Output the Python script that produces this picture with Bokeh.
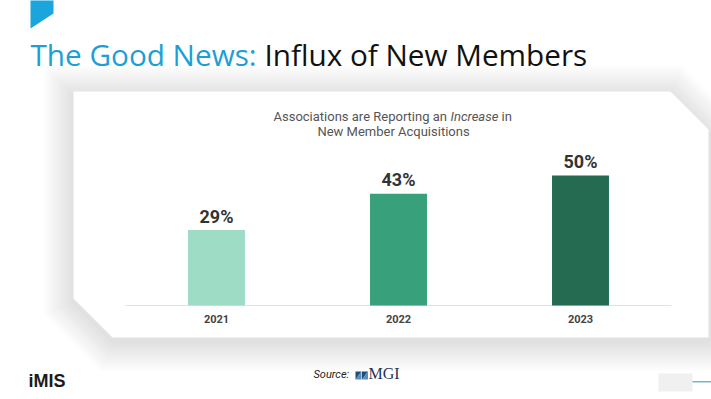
from bokeh.plotting import figure
from bokeh.models import ColumnDataSource, Label, PolyAnnotation, Range1d
from bokeh.core.properties import value
from bokeh.embed import file_html
from bokeh.resources import INLINE

# ---- data ----
years = ["2021", "2022", "2023"]
pct = [29, 43, 50]
bar_colors = ["#9fdcc5", "#38a07a", "#256b51"]
pct_labels = [f"{v}%" for v in pct]

title_lead = "The Good News:"
title_rest = "Influx of New Members"
sub_a = "Associations are Reporting an"
sub_b = "Increase"
sub_c = "in"
sub_2 = "New Member Acquisitions"

# ---- layout: the plot frame covers the whole canvas ----
W, H = 711, 399
X0, XSTEP = 216, 182      # page x of first category centre, px per category
Y0, YPX = 305, 2.6        # page y of the baseline, px per percentage point

p = figure(width=W, height=H, title=None,
           x_range=Range1d(-X0 / XSTEP, (W - X0) / XSTEP),
           y_range=Range1d(-(H - Y0) / YPX, Y0 / YPX),
           output_backend="svg", toolbar_location=None,
           min_border=0, x_axis_location=None, y_axis_location=None)
p.grid.visible = False
p.outline_line_color = None
p.background_fill_color = "white"
p.border_fill_color = "white"


def sx(px):
    return px


def sy(py):
    return H - py


def poly(pts, color, alpha=1.0, level="underlay"):
    a = PolyAnnotation(xs=[sx(x) for x, _ in pts], ys=[sy(y) for _, y in pts],
                       xs_units="screen", ys_units="screen",
                       fill_color=color, fill_alpha=alpha, line_color=None, level=level)
    p.add_layout(a)


# card shadow + card
def card_shape(d, dy):
    k = 0.414 * d
    return [(73 - d, 91 - d + dy), (670 + k, 91 - d + dy), (708 + d, 129 - k + dy),
            (708 + d, 337 + d + dy), (112 - k, 337 + d + dy), (73 - d, 298 + k + dy)]


for d in range(30, 0, -2):
    poly(card_shape(d, 4), "black", 0.0085)
poly(card_shape(0, 0), "white")

# blue tab
poly([(30, -2), (53, -2), (53, 13), (30, 28)], "#1aa6dd")

# bottom-right widget
poly([(658, 373), (692, 373), (692, 391), (658, 391)], "#f0f0f0")
poly([(692, 380.5), (712, 380.5), (712, 382), (692, 382)], "#6fb9c3")

# MGI logo icon
poly([(355, 371), (361, 371), (355, 379)], "#1d4f7c")
poly([(361, 371), (361, 379), (355, 379)], "#5b8fb8")
poly([(361.5, 371), (367.5, 371), (361.5, 379)], "#1d4f7c")
poly([(367.5, 371), (367.5, 379), (361.5, 379)], "#5b8fb8")


def label(text, px, py, font, size, color, style="normal", align="left"):
    # py is the wanted baseline; the renderer sits text ~0.4em low, compensate
    p.add_layout(Label(x=sx(px), y=sy(py - 0.4 * size), x_units="screen", y_units="screen",
                       text=text, text_font=font, text_font_size=f"{size}px",
                       text_font_style=style, text_color=color,
                       text_align=align, text_baseline="alphabetic"))


# slide title
label(title_lead, 30, 66, "Open Sans", 29.7, "#1c9fd6")
label(title_rest, 264, 66, "Open Sans", 29.7, "#111111")

# chart subtitle
label(sub_a, 273, 121, "Roboto", 13, "#555555")
label(sub_b, 450, 121, "Roboto", 13, "#555555", style="italic")
label(sub_c, 501, 121, "Roboto", 13, "#555555")
label(sub_2, 393, 136, "Roboto", 13, "#555555", align="center")

# footer
label("iMIS", 28, 388, "Liberation Sans", 18, "#1b1b1b", style="bold")
label("Source:", 313, 378, "Roboto", 11, "#222222", style="italic")
label("MGI", 368, 379.5, "Liberation Serif", 16, "#1f3656")

# ---- bars, drawn through the data scales ----
idx = list(range(len(years)))
src = ColumnDataSource(dict(i=idx, pct=pct, color=bar_colors, label=pct_labels,
                            year=years,
                            label_y=[v + 14 / YPX for v in pct],
                            year_y=[-13 / YPX] * len(years)))

# baseline (category axis line)
p.segment(x0=-0.5, x1=len(years) - 0.5, y0=0, y1=0, line_color="#e2e2e2", line_width=1)

p.vbar(x="i", top="pct", bottom=0, width=0.313, fill_color="color", line_color=None, source=src)
p.text(x="i", y="label_y", text="label", source=src,
       text_font=value("Roboto"), text_font_size="18px", text_font_style="bold",
       text_color="#333333", text_align="center", text_baseline="alphabetic")
p.text(x="i", y="year_y", text="year", source=src,
       text_font=value("Roboto"), text_font_size="11px", text_font_style="bold",
       text_color="#444444", text_align="center", text_baseline="alphabetic")

open("out.html", "w").write(file_html(p, INLINE))
